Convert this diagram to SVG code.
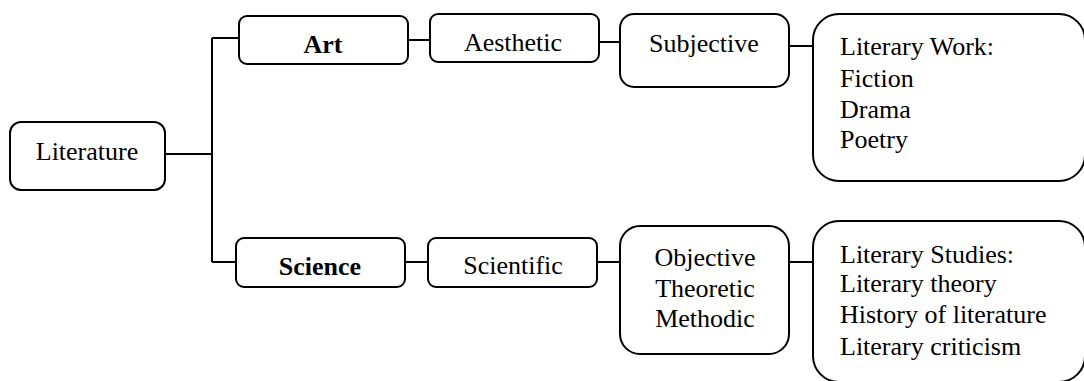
<svg xmlns="http://www.w3.org/2000/svg" width="1084" height="381" viewBox="0 0 1084 381" font-family="Liberation Serif, DejaVu Serif, serif">
<style>
.box{fill:#fff;stroke:#000;stroke-width:2}
.t{font-family:'Liberation Serif','DejaVu Serif',serif;font-size:26px;fill:#000}
.c{text-anchor:middle}
.b{font-weight:bold}
.conn{fill:none;stroke:#000;stroke-width:2}
</style>
<rect width="1084" height="381" fill="#fff"/>
<g id="connectors">
<path class="conn" d="M165 154H212M212 38V262M212 38H239M212 262H236"/>
<path class="conn" d="M408 40H430M599 42H620M789 46H813"/>
<path class="conn" d="M405 262H428M597 262H620M789 262H813"/>
</g>
<g id="literature">
<rect class="box" x="10" y="122" width="155" height="68" rx="11"/>
<text class="t c" x="87" y="160">Literature</text>
</g>
<g id="art">
<rect class="box" x="239" y="16" width="169" height="48" rx="8"/>
<text class="t c b" x="323" y="53">Art</text>
</g>
<g id="aesthetic">
<rect class="box" x="430" y="14" width="169" height="48" rx="8"/>
<text class="t c" x="513" y="51">Aesthetic</text>
</g>
<g id="subjective">
<rect class="box" x="620" y="14" width="169" height="73" rx="14"/>
<text class="t c" x="704" y="52">Subjective</text>
</g>
<g id="literary-work">
<rect class="box" x="813" y="14" width="272" height="167" rx="26"/>
<text class="t" x="840" y="55">Literary Work:</text>
<text class="t" x="840" y="87">Fiction</text>
<text class="t" x="840" y="118">Drama</text>
<text class="t" x="840" y="148">Poetry</text>
</g>
<g id="science">
<rect class="box" x="236" y="238" width="169" height="49" rx="8"/>
<text class="t c b" x="320" y="275">Science</text>
</g>
<g id="scientific">
<rect class="box" x="428" y="238" width="169" height="49" rx="8"/>
<text class="t c" x="513" y="274">Scientific</text>
</g>
<g id="objective">
<rect class="box" x="620" y="226" width="169" height="128" rx="20"/>
<text class="t c" x="705" y="266">Objective</text>
<text class="t c" x="705" y="297">Theoretic</text>
<text class="t c" x="705" y="327">Methodic</text>
</g>
<g id="literary-studies">
<rect class="box" x="813" y="221" width="272" height="161" rx="26"/>
<text class="t" x="840" y="263">Literary Studies:</text>
<text class="t" x="840" y="292">Literary theory</text>
<text class="t" x="840" y="323">History of literature</text>
<text class="t" x="840" y="355">Literary criticism</text>
</g>
</svg>
